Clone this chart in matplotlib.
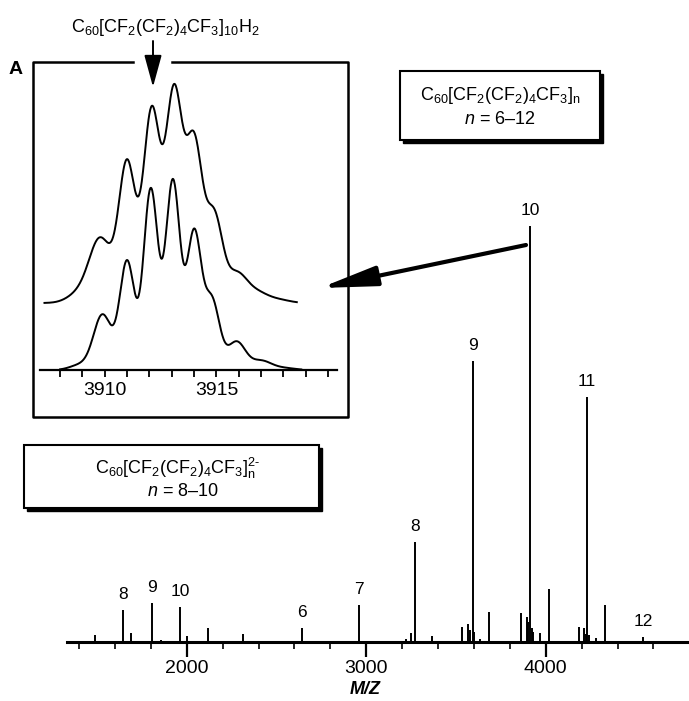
import numpy as np
import matplotlib.pyplot as plt
from matplotlib.patches import Rectangle
from matplotlib.ticker import MultipleLocator

plt.rcParams['font.family'] = ['Liberation Sans', 'DejaVu Sans']
plt.rcParams['mathtext.fontset'] = 'custom'
plt.rcParams['mathtext.rm'] = 'Liberation Sans'
plt.rcParams['mathtext.it'] = 'Liberation Sans:italic'
plt.rcParams['mathtext.bf'] = 'Liberation Sans:bold'

# main spectrum: m/z and relative intensity (peak n=10 -> 100)
mz = [1489, 1647, 1688, 1807, 1855, 1963, 2000, 2117, 2315, 2644,
      2943, 2960, 3222, 3250, 3270, 3365, 3535, 3565, 3580, 3592,
      3602, 3634, 3686, 3792, 3862, 3894, 3903, 3913, 3925, 3931,
      3968, 4020, 4117, 4184, 4213, 4222, 4231, 4242, 4280, 4332, 4544]
intensity = [1.7, 7.7, 2.2, 9.4, 0.5, 8.4, 1.4, 3.4, 1.9, 3.4,
             0.3, 8.9, 0.7, 2.2, 24.0, 1.4, 3.6, 4.3, 2.9, 67.5,
             2.4, 0.7, 7.2, 0.3, 7.0, 6.0, 4.8, 100.0, 3.4, 2.4,
             2.2, 12.7, 0.3, 3.6, 3.4, 1.9, 58.9, 1.7, 1.0, 8.9, 1.2]

label_mz = [1647, 1807, 1963, 2644, 2960, 3270, 3592, 3913, 4231, 4544]
label_text = ['8', '9', '10', '6', '7', '8', '9', '10', '11', '12']

# inset: isotope pattern of C60[CF2(CF2)4CF3]10H2 (centre, height, peak width)
iso_mz_top = [3908.8, 3909.8, 3911.0, 3912.1, 3913.1, 3914.0, 3914.9, 3915.9, 3916.8, 3917.8]
iso_int_top = [8, 64, 138, 190, 206, 156, 84, 28, 10, 3]
iso_w_top = [0.5, 0.5, 0.37, 0.37, 0.37, 0.37, 0.37, 0.45, 0.5, 0.5]
iso_mz_bot = [3908.9, 3909.9, 3911.0, 3912.06, 3913.05, 3914.0, 3914.8, 3915.9, 3917.0, 3918.0]
iso_int_bot = [5, 55, 108, 180, 188, 135, 68, 28, 9, 2]
iso_w_bot = [0.45, 0.4, 0.33, 0.32, 0.32, 0.32, 0.34, 0.4, 0.45, 0.5]


def profile(x, centers, heights, widths):
    y = np.zeros_like(x)
    for c, h, w in zip(centers, heights, widths):
        y += h * np.exp(-(x - c) ** 2 / (2 * w ** 2))
    return y


W, H = 689, 701
fig = plt.figure(figsize=(W / 100, H / 100), dpi=100)

# main spectrum
ax = fig.add_axes([67 / W, 1 - 642 / H, 1 - 67 / W, (642 - 200) / H])
ax.patch.set_visible(False)
ax.vlines(mz, 0, intensity, color='k', lw=1.4)
ax.set_xlim(1333, 4798)
ax.set_ylim(0, 106.25)
for s in ['top', 'left', 'right']:
    ax.spines[s].set_visible(False)
ax.spines['bottom'].set_linewidth(2.2)
ax.set_yticks([])
ax.set_xticks([2000, 3000, 4000])
ax.xaxis.set_minor_locator(MultipleLocator(200))
ax.tick_params(axis='x', which='major', length=11, width=1.6, labelsize=14, pad=2)
ax.tick_params(axis='x', which='minor', length=5, width=1.2)
ax.set_xlabel('M/Z', fontsize=13, fontweight='bold', fontstyle='italic')
ax.xaxis.set_label_coords((365 - 67) / 622, -0.088)
for m, t in zip(label_mz, label_text):
    i = intensity[mz.index(m)]
    ax.annotate(t, xy=(m, i), xytext=(0, 6), textcoords='offset points',
                ha='center', va='bottom', fontsize=12.5)

# inset
axi = fig.add_axes([40 / W, 1 - 370 / H, 297 / W, 300 / H])
axi.patch.set_visible(False)
x_top = np.linspace(3907.3, 3918.6, 600)
x_bot = np.linspace(3908.0, 3918.8, 600)
axi.plot(x_top, profile(x_top, iso_mz_top, iso_int_top, iso_w_top) + 67, color='k', lw=1.4)
axi.plot(x_bot, profile(x_bot, iso_mz_bot, iso_int_bot, iso_w_bot), color='k', lw=1.4)
axi.set_xlim(3907.1, 3920.4)
axi.set_ylim(0, 300)
for s in ['top', 'left', 'right']:
    axi.spines[s].set_visible(False)
axi.spines['bottom'].set_linewidth(1.6)
axi.set_yticks([])
axi.set_xticks([3910, 3915])
axi.xaxis.set_minor_locator(MultipleLocator(1))
axi.tick_params(axis='x', which='both', length=5, width=1.3, labelsize=14, pad=4)

# overlay in pixel coordinates for frame, boxes and arrows
ov = fig.add_axes([0, 0, 1, 1])
ov.set_xlim(0, W)
ov.set_ylim(H, 0)
ov.axis('off')
ov.patch.set_visible(False)

ov.plot([133, 33, 33, 348, 348, 172], [62, 62, 417, 417, 62, 62], color='k', lw=1.8)
ov.text(16, 69, 'A', fontsize=14, fontweight='bold', ha='center', va='center')
ov.text(165, 27, r'C$_{60}$[CF$_2$(CF$_2$)$_4$CF$_3$]$_{10}$H$_2$',
        fontsize=13, ha='center', va='center')
ov.annotate('', xy=(153, 87), xytext=(153, 41),
            arrowprops=dict(arrowstyle='-|>,head_length=1.1,head_width=0.3',
                            lw=1.4, color='k', mutation_scale=18, shrinkA=0, shrinkB=0))
ov.annotate('', xy=(320, 288), xytext=(526, 245),
            arrowprops=dict(arrowstyle='-|>,head_length=1.7,head_width=0.3',
                            lw=3, color='k', mutation_scale=20, shrinkA=0, shrinkB=0))

# boxes with drop shadow
for (x0, y0, x1, y1) in [(400, 71, 600, 140), (24, 445, 319, 508)]:
    ov.add_patch(Rectangle((x0 + 3, y0 + 3), x1 - x0, y1 - y0, facecolor='k', edgecolor='k'))
    ov.add_patch(Rectangle((x0, y0), x1 - x0, y1 - y0, facecolor='white', edgecolor='k', lw=1.5))

ov.text(500, 95, r'C$_{60}$[CF$_2$(CF$_2$)$_4$CF$_3$]$_{\mathrm{n}}$',
        fontsize=13, ha='center', va='center')
ov.text(500, 119, r'$n$ = 6–12', fontsize=13, ha='center', va='center')
ov.text(178, 468, r'C$_{60}$[CF$_2$(CF$_2$)$_4$CF$_3$]$_{\mathrm{n}}^{\text{2-}}$',
        fontsize=13, ha='center', va='center')
ov.text(183, 492, r'$n$ = 8–10', fontsize=13, ha='center', va='center')

fig.savefig('out.png', dpi=100, facecolor='white')
